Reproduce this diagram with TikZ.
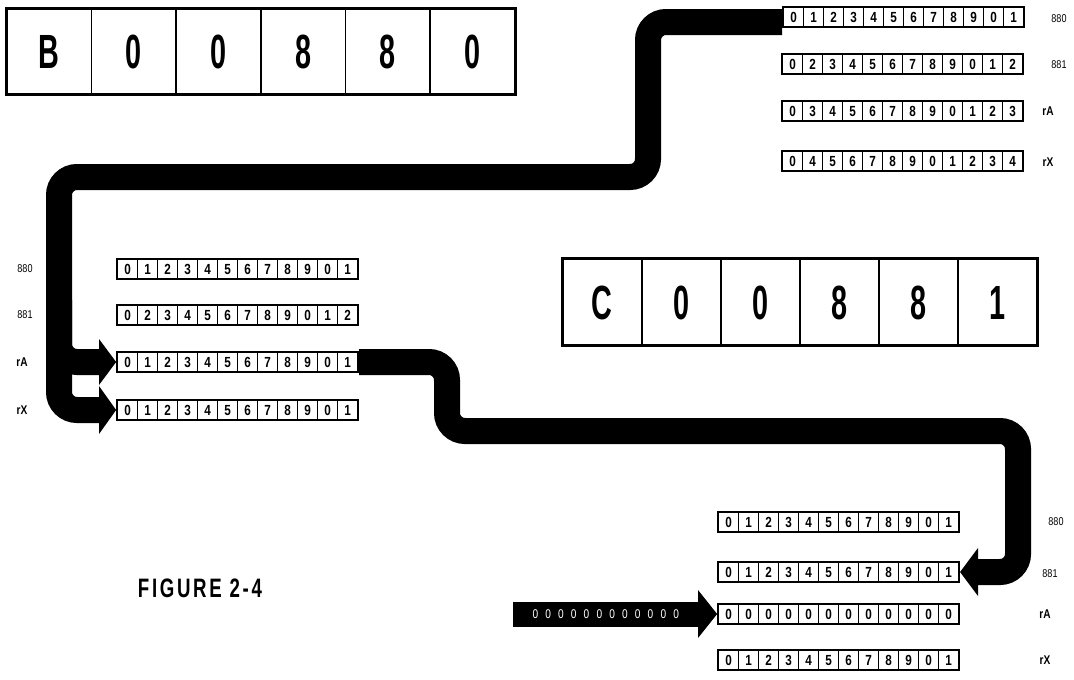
\documentclass[tikz,border=0pt]{standalone}
\usepackage{fontspec}
\setmainfont{Liberation Sans}
\newfontfamily\bigf{Liberation Sans}[FakeStretch=0.6]
\newfontfamily\regf{Liberation Sans}[FakeStretch=0.8]
\newfontfamily\figf{Liberation Sans}[FakeStretch=0.7,LetterSpace=10]
\usetikzlibrary{calc,fit}
\tikzset{
  cell/.style={draw, line width=0.9pt, minimum width=15pt, minimum height=13.8pt, inner sep=0pt,
    text height=7.9pt, text depth=0pt,
    font=\regf\bfseries\fontsize{11}{11}\selectfont},
  regframe/.style={draw, line width=1.3pt, inner sep=0pt},
  bigcellB/.style={draw, line width=1.3pt, minimum width=63.5pt, minimum height=63.75pt, inner sep=0pt,
    text height=25.8pt, text depth=0pt,
    font=\bigf\bfseries\fontsize{36}{36}\selectfont},
  bigcellC/.style={bigcellB, minimum width=59.25pt, minimum height=64.5pt},
  lbl/.style={font=\regf\fontsize{8.5}{8.5}\selectfont},
  lblb/.style={font=\regf\bfseries\fontsize{9.5}{9.5}\selectfont},
  band/.style={line width=19.5pt, rounded corners=13.5pt},
  zeroband/.style={fill=black, text=white, minimum width=139.5pt, minimum height=18.75pt, inner sep=0pt,
    font=\regf\fontsize{9.5}{9.5}\selectfont},
  figlabel/.style={font=\figf\bfseries\fontsize{20}{20}\selectfont}
}
\newcommand\regrow[3]{%
  \foreach \d [count=\i] in {#3} {\node[cell, anchor=west] (#1-\i) at ($#2+(\i*20-20,0)$) {\d};}
  \node[regframe, fit=(#1-1)(#1-12)] (#1) {};
}
\newcommand\zz{\makebox[9.6pt]{0}}
\begin{document}
\begin{tikzpicture}[x=0.75pt,y=-0.75pt]
\useasboundingbox[fill=white] (0,0) rectangle (1074,679);

% big instruction boxes
\foreach \c [count=\i] in {B,0,0,8,8,0}
  \node[bigcellB, anchor=west] (B-\i) at ($(6,51.5)+(\i*84.67-84.67,0)$) {\c};
\node[regframe, line width=1.6pt, fit=(B-1)(B-6)] (Bbox) {};
\foreach \c [count=\i] in {C,0,0,8,8,1}
  \node[bigcellC, anchor=west] (C-\i) at ($(562,302)+(\i*79-79,0)$) {\c};
\node[regframe, line width=1.6pt, fit=(C-1)(C-6)] (Cbox) {};

% top-right registers
\regrow{tr880}{(783,17)}{0,1,2,3,4,5,6,7,8,9,0,1}
\regrow{tr881}{(782,64)}{0,2,3,4,5,6,7,8,9,0,1,2}
\regrow{trA}{(782,111)}{0,3,4,5,6,7,8,9,0,1,2,3}
\regrow{trX}{(782,161)}{0,4,5,6,7,8,9,0,1,2,3,4}
\node[lbl] (ltr880) at (1059,19) {880};
\node[lbl] (ltr881) at (1059,65) {881};
\node[lblb] (ltrA) at (1048,111) {rA};
\node[lblb] (ltrX) at (1048,162) {rX};

% middle-left registers
\regrow{ml880}{(117,269)}{0,1,2,3,4,5,6,7,8,9,0,1}
\regrow{ml881}{(117,315)}{0,2,3,4,5,6,7,8,9,0,1,2}
\regrow{mlA}{(117,362)}{0,1,2,3,4,5,6,7,8,9,0,1}
\regrow{mlX}{(117,410)}{0,1,2,3,4,5,6,7,8,9,0,1}
\node[lbl] (lml880) at (25,269) {880};
\node[lbl] (lml881) at (25,315) {881};
\node[lblb] (lmlA) at (22,362) {rA};
\node[lblb] (lmlX) at (22,410) {rX};

% bottom registers
\regrow{bt880}{(718,522)}{0,1,2,3,4,5,6,7,8,9,0,1}
\regrow{bt881}{(718,572)}{0,1,2,3,4,5,6,7,8,9,0,1}
\regrow{btA}{(718,614)}{0,0,0,0,0,0,0,0,0,0,0,0}
\regrow{btX}{(718,660)}{0,1,2,3,4,5,6,7,8,9,0,1}
\node[lbl] (lbt880) at (1056,522) {880};
\node[lbl] (lbt881) at (1050,574) {881};
\node[lblb] (lbtA) at (1045,614) {rA};
\node[lblb] (lbtX) at (1045,660) {rX};

% flow 1: top-right 880 to middle-left rA and rX
\coordinate (hX) at (100,410);
\coordinate (hA) at (100,362);
\coordinate (jA) at (59,300);
\draw[band] ([yshift=-3.75pt]tr880.west) -- (648,22) -- (648,177) -- (59,177) -- (59,410) -- (hX);
\draw[band] (jA) -- (59,362) -- (hA);
\fill ($(hX)+(-1,-24)$) -- (mlX.west) -- ($(hX)+(-1,24)$) -- cycle;
\fill ($(hA)+(-1,-23)$) -- (mlA.west) -- ($(hA)+(-1,23)$) -- cycle;

% flow 2: middle-left rA to bottom 881
\coordinate (h881) at (977,572);
\draw[band] (mlA.east) -- (447,362) -- (447,431) -- (1018,431) -- (1018,572) -- (h881);
\fill ($(h881)+(1,-24)$) -- (bt881.east) -- ($(h881)+(1,24)$) -- cycle;

% flow 3: zeros into bottom rA
\node[zeroband, anchor=east] (zeros) at (699,614) {\zz\zz\zz\zz\zz\zz\zz\zz\zz\zz\zz\zz};
\fill (698,590) -- (btA.west) -- (698,638) -- cycle;

\node[figlabel] (fig) at (200,588) {FIGURE 2-4};
\end{tikzpicture}
\end{document}
